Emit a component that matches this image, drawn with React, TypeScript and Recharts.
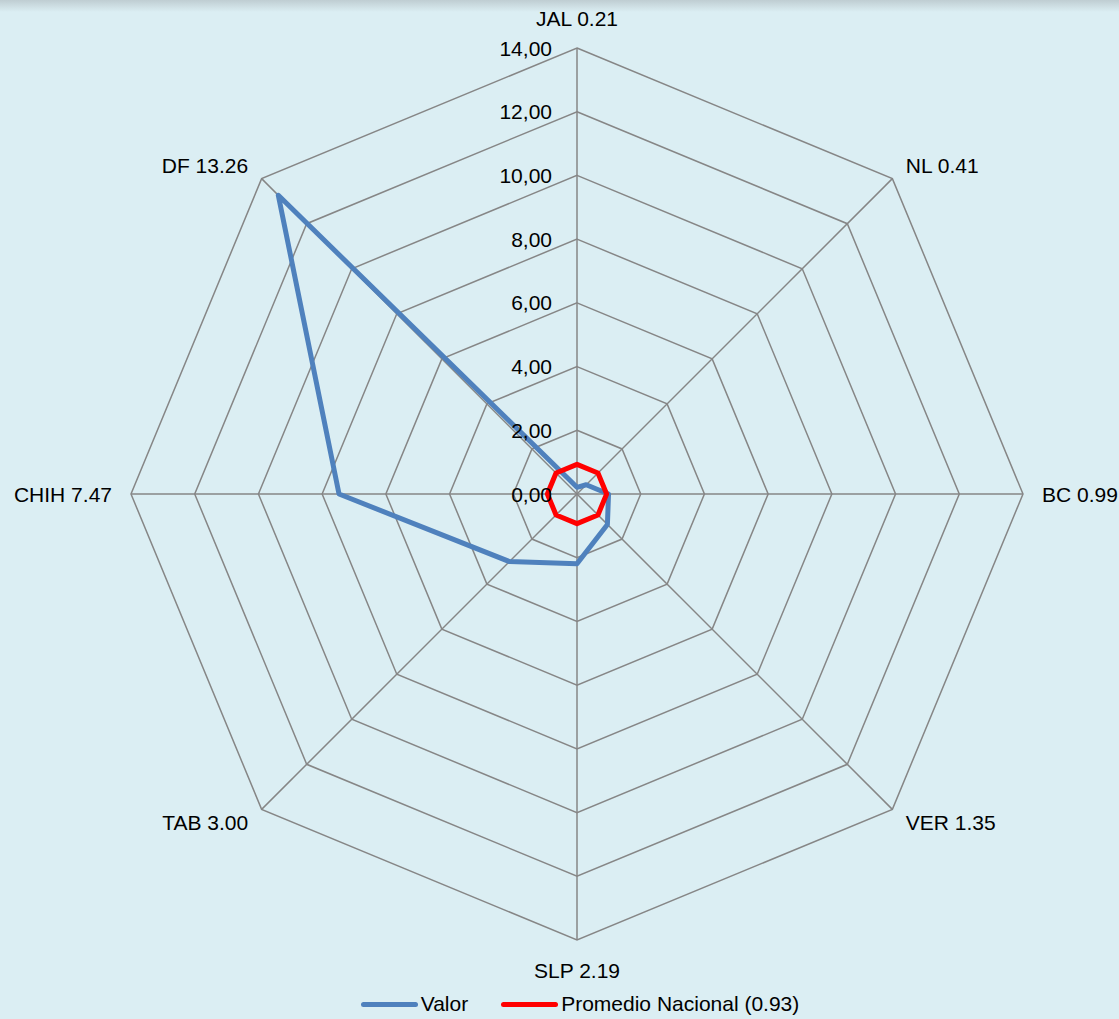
import { RadarChart, Radar, PolarGrid, PolarAngleAxis, PolarRadiusAxis, Legend } from 'recharts';

const categorias = ['JAL', 'NL', 'BC', 'VER', 'SLP', 'TAB', 'CHIH', 'DF'];
const valor = [0.21, 0.41, 0.99, 1.35, 2.19, 3.0, 7.47, 13.26];
const promedio = [0.93, 0.93, 0.93, 0.93, 0.93, 0.93, 0.93, 0.93];
const radioTicks = [0, 2, 4, 6, 8, 10, 12, 14];

const CX = 577;
const CY = 494;
const R = 446;
const FONT = '"Liberation Sans", Arial, sans-serif';
const FS = 21;

const data = categorias.map((c, i) => ({ cat: c, valor: valor[i], promedio: promedio[i] }));

const AngleTick = (props: any) => {
  const { payload, index } = props;
  const ang = (payload.coordinate * Math.PI) / 180;
  const cos = Math.cos(ang);
  const sin = Math.sin(ang);
  const vertical = Math.abs(cos) < 0.1;
  const d = vertical ? 30 : 19;
  const x = CX + cos * (R + d);
  const y = CY - sin * (R + d);
  const anchor = cos > 0.1 ? 'start' : cos < -0.1 ? 'end' : 'middle';
  return (
    <text x={x} y={y} textAnchor={anchor} dominantBaseline="central" fontSize={FS} fill="#000" fontFamily={FONT}>
      {`${payload.value} ${valor[index].toFixed(2)}`}
    </text>
  );
};

const RadiusTick = (props: any) => {
  const { x, y, payload } = props;
  return (
    <text x={x - 25} y={y} textAnchor="end" dominantBaseline="central" fontSize={FS} fill="#000" fontFamily={FONT}>
      {Number(payload.value).toFixed(2).replace('.', ',')}
    </text>
  );
};

const LegendContent = () => (
  <div style={{ display: 'flex', justifyContent: 'center', alignItems: 'center', fontFamily: FONT, fontSize: FS, color: '#000' }}>
    <span style={{ display: 'inline-block', width: 57, height: 5, borderRadius: 3, background: '#4F81BD', marginRight: 3 }} />
    <span style={{ marginRight: 33 }}>Valor</span>
    <span style={{ display: 'inline-block', width: 57, height: 5, borderRadius: 3, background: '#FF0000', marginRight: 3 }} />
    <span>Promedio Nacional (0.93)</span>
  </div>
);

export default function App() {
  return (
    <div style={{ position: 'absolute', left: 0, top: 0, width: 1119, height: 1019, background: '#DBEEF3', overflow: 'hidden' }}>
      <div style={{ position: 'absolute', left: 0, top: 0, width: 1119, height: 12, background: 'linear-gradient(#bfcdd2, rgba(219,238,243,0))' }} />
      <RadarChart width={1119} height={1019} data={data} cx={CX} cy={CY} outerRadius={R} margin={{ top: 0, right: 0, bottom: 0, left: 0 }}>
        <PolarGrid gridType="polygon" stroke="#868686" strokeWidth={1.5} />
        <PolarAngleAxis dataKey="cat" tick={AngleTick} tickLine={false} axisLine={false} />
        <PolarRadiusAxis angle={90} domain={[0, 14]} tickCount={8} ticks={radioTicks as any} tick={RadiusTick} axisLine={false} tickLine={false} />
        <Radar name="Valor" dataKey="valor" stroke="#4F81BD" strokeWidth={5} fill="none" fillOpacity={0} dot={false} isAnimationActive={false} strokeLinejoin="round" />
        <Radar name="Promedio Nacional (0.93)" dataKey="promedio" stroke="#FF0000" strokeWidth={5} fill="none" fillOpacity={0} dot={false} isAnimationActive={false} strokeLinejoin="round" />
        <Legend content={LegendContent} wrapperStyle={{ position: 'absolute', top: 992, left: 0, width: 1160 }} />
      </RadarChart>
    </div>
  );
}
